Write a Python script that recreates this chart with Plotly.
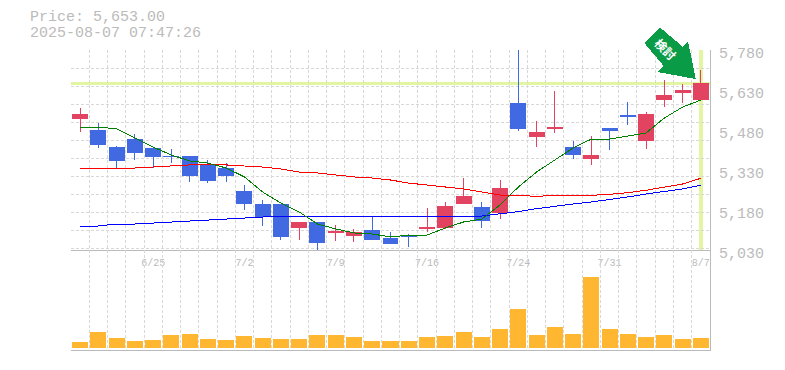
import plotly.graph_objects as go

dates = ["6/19","6/20","6/23","6/24","6/25","6/26","6/27","6/30","7/1","7/2","7/3","7/4","7/7","7/8","7/9",
         "7/10","7/11","7/14","7/15","7/16","7/17","7/18","7/22","7/23","7/24","7/25","7/28","7/29","7/30","7/31",
         "8/1","8/4","8/5","8/6","8/7"]
label_dates = ["6/25","7/2","7/9","7/16","7/24","7/31","8/7"]
price_ticks = [5030,5180,5330,5480,5630,5780]

opens = [5525,5480,5416,5446,5409,5382.5,5382.5,5352.5,5337.5,5251,5202.5,5202.5,5116,5135,5094,5086,5105,5075,5086,
         5109,5116,5206,5191,5169,5581,5457.5,5487.5,5416,5375,5487.5,5536,5439,5596,5622.5,5596]
highs = [5562.5,5506,5420,5465,5412,5409,5384,5367.5,5356,5274,5217.5,5204,5136,5136,5124,5109,5157.5,5097.5,5090,
         5187.5,5210,5300,5210,5292.5,5780,5514,5626,5439,5457.5,5489,5585,5547.5,5667.5,5652.5,5705]
lows = [5474,5414,5333,5367.5,5337.5,5356,5285,5281,5285,5180,5120,5067.5,5067.5,5026,5064,5060,5071,5052.5,5041,
        5097.5,5109,5206,5112.5,5146,5476,5416,5469,5371,5349,5405,5499,5409,5566,5581,5596]
closes = [5540,5424,5367.5,5394,5379,5379,5311,5289,5311,5206,5157.5,5079,5135,5060,5101,5094,5071,5056,5079,
          5116,5195,5229,5142.5,5262.5,5484,5469,5491,5390,5386,5480,5532.5,5540,5611,5630,5653]
ma_short = [5487.5,5491,5484,5450,5416,5386,5364,5356,5337.5,5304,5247.5,5206,5172.5,5127.5,5109,5094,5090,5079,5086,
            5086,5112.5,5135,5146,5199,5266,5322.5,5367.5,5412.5,5446,5446,5457.5,5469,5525,5566,5592.5]
ma_mid = [5334,5334,5334,5337.5,5341,5345,5349,5349,5349,5345,5341,5334,5322.5,5319,5311,5304,5300,5292.5,5281,
          5274,5266,5259,5247.5,5236,5235,5231,5235,5235,5235,5239,5245,5254,5265,5277.5,5299]
ma_long = [5120,5120,5127.5,5127.5,5131,5135,5139,5142.5,5146,5150,5154,5157.5,5157.5,5157.5,5157.5,5157.5,5157.5,
           5157.5,5157.5,5157.5,5154,5154,5157.5,5165,5174,5185,5195,5202.5,5210,5219,5229,5240,5250,5259,5273]
volumes = [6,16,10,7,8,13,14,9,8,12,10,9,9,13,13,11,7,7,7,11,12,16,11,19,39,13,21,14,71,19,14,11,13,9,10]
last_price = 5653
header = ["Price: 5,653.00", "2025-08-07 07:47:26"]
badge_text = "検討"

GREY = "#bbbbbb"
GRID = "#d8d8d8"
RED = "#e24360"
BLUE = "#4169e1"
LEVEL = "#e2f5a0"
W, H = 785, 370
L, R, T, B = 71, 710, 50, 350
idx = list(range(len(dates)))
tick_idx = [dates.index(d) for d in label_dates]

def px(x, y):
    return (x - L) / (R - L), (B - y) / (B - T)

fig = go.Figure()
for vals, col, lw in ((ma_long, "#0000ff", 1), (ma_mid, "#ff0000", 1), (ma_short, "#008000", 1)):
    fig.add_trace(go.Scatter(x=idx, y=vals, mode="lines", line=dict(color=col, width=lw), xaxis="x", yaxis="y"))
fig.add_trace(go.Candlestick(x=idx, open=opens, high=highs, low=lows, close=closes, xaxis="x", yaxis="y",
                             increasing=dict(line=dict(color=RED, width=1), fillcolor=RED),
                             decreasing=dict(line=dict(color=BLUE, width=1), fillcolor=BLUE)))
fig.add_trace(go.Bar(x=idx, y=volumes, width=0.877, marker=dict(color="#ffb732", line=dict(width=0)),
                     xaxis="x2", yaxis="y2"))

xminor = dict(dtick=1, tick0=-0.5, showgrid=True, gridcolor=GRID, griddash="3px,2px", gridwidth=1, ticklen=0)
frame = dict(showline=True, linecolor=GREY, linewidth=1)

arrow = [(660, 27.5), (644.3, 43), (663.5, 65.7), (657.3, 72), (695.7, 79), (688, 41), (682.7, 46.7)]
path = "M " + " L ".join("{:.5f},{:.5f}".format(*px(*p)) for p in arrow) + " Z"

shapes = [
    dict(type="line", xref="x", yref="y", x0=-0.5, x1=34.5, y0=last_price, y1=last_price,
         line=dict(color=LEVEL, width=3), layer="below"),
    dict(type="line", xref="x", yref="y", x0=34, x1=34, y0=5030, y1=5780,
         line=dict(color=LEVEL, width=4), layer="below"),
    dict(type="path", xref="paper", yref="paper", path=path, fillcolor="#0a9b47", line=dict(width=0), layer="above"),
]

annotations = []
for text, y in zip(header, (18, 33)):
    xp, yp = px(28, y)
    annotations.append(dict(xref="paper", yref="paper", x=xp, y=yp, xanchor="left", yanchor="middle", showarrow=False,
                            text=text, font=dict(family="Liberation Mono", size=15, color=GREY)))
xp, yp = px(665.5, 48.5)
annotations.append(dict(xref="paper", yref="paper", x=xp, y=yp, xanchor="center", yanchor="middle", showarrow=False,
                        text=f"<b>{badge_text}</b>", textangle=45,
                        font=dict(family="Noto Sans CJK JP", size=12, color="white")))

fig.update_layout(
    width=W, height=H, margin=dict(l=L, r=W - R, t=T, b=H - B, pad=0, autoexpand=False),
    paper_bgcolor="white", plot_bgcolor="white", showlegend=False, boxgap=0.18, boxgroupgap=0, boxmode="overlay",
    hovermode=False, shapes=shapes, annotations=annotations,
    xaxis=dict(domain=[0, 1], range=[-0.5, 34.5], anchor="y", rangeslider=dict(visible=False), showgrid=False,
               zeroline=False, tickmode="array", tickvals=tick_idx, ticktext=label_dates, ticklen=0,
               tickfont=dict(family="Liberation Mono", size=10, color=GREY), ticklabelstandoff=3,
               minor=xminor, **frame),
    xaxis2=dict(domain=[0, 1], range=[-0.5, 34.5], anchor="y2", showgrid=False, zeroline=False,
                showticklabels=False, ticklen=0, tickmode="array", tickvals=tick_idx, minor=xminor, **frame),
    yaxis=dict(domain=[1 / 3, 1], range=[5030, 5780], anchor="x", side="right", showgrid=False, zeroline=False,
               tickmode="array", tickvals=price_ticks, ticktext=[f"{v:,}" for v in price_ticks], ticklen=0,
               tickfont=dict(family="Liberation Mono", size=15, color=GREY), ticklabelstandoff=5, ticklabelshift=3,
               minor=dict(dtick=67.5, tick0=5037.5, showgrid=True, gridcolor=GRID, griddash="3px,2px", gridwidth=1, ticklen=0),
               **frame),
    yaxis2=dict(domain=[0, 1 / 3], range=[-2, 98], anchor="x2", side="right", showgrid=False, zeroline=False,
                showticklabels=False, ticklen=0, **frame),
)
fig.write_html("out.html", config=dict(displayModeBar=False),
               post_script="document.body.style.margin='0';"
                           "document.head.insertAdjacentHTML('beforeend','<style>.main-svg path{shape-rendering:crispEdges!important}</style>');")
